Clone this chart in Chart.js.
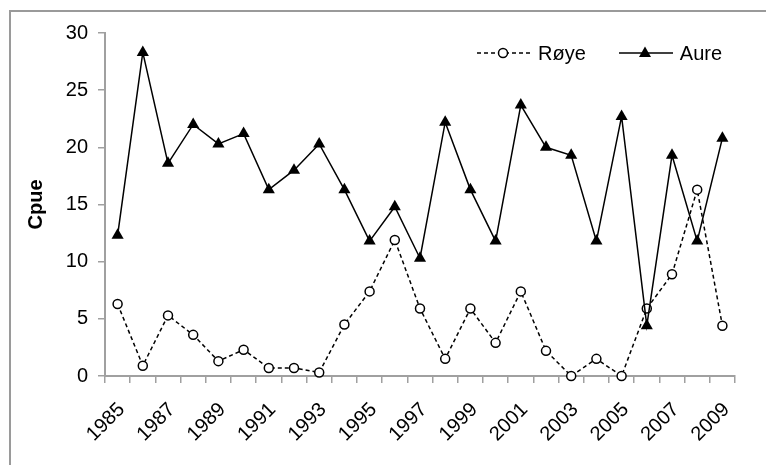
<!DOCTYPE html>
<html>
<head>
<meta charset="utf-8">
<script src="https://cdn.jsdelivr.net/npm/chart.js@4/dist/chart.umd.min.js"></script>
<style>
  body { margin: 0; background: #fff; }
  #wrap { position: relative; width: 766px; height: 465px; overflow: hidden; }
  #legend {
    position: absolute; left: 477px; top: 43px; height: 20px;
    display: flex; align-items: center;
    font: 20px "Liberation Sans", Arial, sans-serif; color: #000;
  }
  #legend svg { display: block; margin-right: 7px; }
  #legend .item { display: flex; align-items: center; }
  #legend .item + .item { margin-left: 33px; }
</style>
</head>
<body>
<div id="wrap">
  <canvas id="cpueChart" width="766" height="465"></canvas>
  <div id="legend">
    <div class="item">
      <svg width="54" height="20">
        <line x1="0" y1="10" x2="54" y2="10" stroke="#000" stroke-width="1.5" stroke-dasharray="4,3"/>
        <circle cx="26" cy="10" r="4.5" fill="#fff" stroke="#000" stroke-width="1.5"/>
      </svg>
      <span>Røye</span>
    </div>
    <div class="item">
      <svg width="54" height="20">
        <line x1="0" y1="10" x2="54" y2="10" stroke="#000" stroke-width="1.5"/>
        <polygon points="26,3.5 32,14 20,14" fill="#000"/>
      </svg>
      <span>Aure</span>
    </div>
  </div>
</div>
<script>
// Data
const years = ['1985', '1986', '1987', '1988', '1989', '1990', '1991', '1992', '1993', '1994',
  '1995', '1996', '1997', '1998', '1999', '2000', '2001', '2002', '2003', '2004',
  '2005', '2006', '2007', '2008', '2009'];
const roye = [6.3, 0.9, 5.3, 3.6, 1.3, 2.3, 0.7, 0.7, 0.3, 4.5,
  7.4, 11.9, 5.9, 1.5, 5.9, 2.9, 7.4, 2.2, 0.0, 1.5,
  0.0, 5.9, 8.9, 16.3, 4.4];
const aure = [12.3, 28.3, 18.6, 22.0, 20.3, 21.2, 16.3, 18.0, 20.3, 16.3,
  11.8, 14.8, 10.3, 22.2, 16.3, 11.8, 23.7, 20.0, 19.3, 11.8,
  22.7, 4.4, 19.3, 11.8, 20.8];

const axisGray = '#a0a0a0';
const fontFamily = '"Liberation Sans", Arial, sans-serif';

// Draws the grey frame around the chart
const framePlugin = {
  id: 'frame',
  beforeDraw(chart) {
    const ctx = chart.ctx;
    ctx.save();
    ctx.strokeStyle = '#9a9a9a';
    ctx.lineWidth = 2;
    ctx.beginPath();
    ctx.moveTo(10, 466);
    ctx.lineTo(10, 11);
    ctx.lineTo(767, 11);
    ctx.stroke();
    ctx.restore();
  }
};

function renderChart() {
  const ctx = document.getElementById('cpueChart').getContext('2d');
  new Chart(ctx, {
    type: 'line',
    data: {
      labels: years,
      datasets: [{
        label: 'Røye',
        data: roye,
        borderColor: '#000',
        borderWidth: 1.5,
        borderDash: [4, 3],
        pointStyle: 'circle',
        pointRadius: 4.5,
        pointBorderWidth: 1.5,
        pointBackgroundColor: '#fff',
        pointBorderColor: '#000',
        tension: 0,
        clip: false,
        order: 1
      }, {
        label: 'Aure',
        data: aure,
        borderColor: '#000',
        borderWidth: 1.5,
        pointStyle: 'triangle',
        pointRadius: 7,
        pointBorderWidth: 0,
        pointBackgroundColor: '#000',
        pointBorderColor: '#000',
        tension: 0,
        clip: false,
        order: 0
      }]
    },
    options: {
      responsive: false,
      animation: false,
      layout: { padding: { left: 0, top: 33, right: 31, bottom: 0 } },
      plugins: {
        legend: { display: false },
        tooltip: { enabled: false }
      },
      scales: {
        x: {
          offset: true,
          grid: { offset: true, drawOnChartArea: false, drawTicks: true, tickLength: 7, color: axisGray, lineWidth: 1.5 },
          border: { color: axisGray, width: 2 },
          ticks: {
            autoSkip: false,
            maxRotation: 45,
            minRotation: 45,
            padding: 15,
            labelOffset: 4,
            color: '#000',
            font: { family: fontFamily, size: 20 },
            callback: function (val, i) { return i % 2 === 0 ? this.getLabelForValue(val) : ''; }
          },
          afterFit: (scale) => { scale.height = 89; }
        },
        y: {
          min: 0,
          max: 30,
          grid: { drawOnChartArea: false, drawTicks: true, tickLength: 7, color: axisGray, lineWidth: 1.5 },
          border: { color: axisGray, width: 2 },
          ticks: {
            stepSize: 5,
            padding: 10,
            color: '#000',
            font: { family: fontFamily, size: 20 }
          },
          title: {
            display: true,
            text: 'Cpue',
            color: '#000',
            padding: { top: 24, bottom: 0 },
            font: { family: fontFamily, size: 20, weight: 'bold' }
          },
          afterFit: (scale) => { scale.width = 105; }
        }
      }
    },
    plugins: [framePlugin]
  });
}

document.addEventListener('DOMContentLoaded', renderChart);
</script>
</body>
</html>
